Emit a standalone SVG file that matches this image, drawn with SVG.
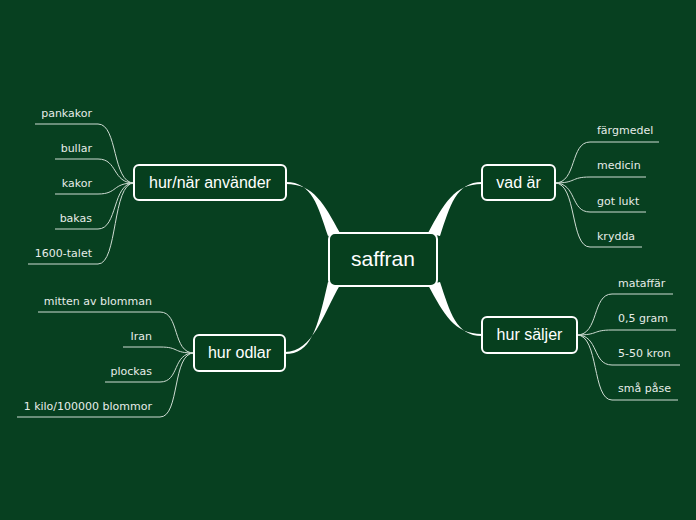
<svg xmlns="http://www.w3.org/2000/svg" width="696" height="520" viewBox="0 0 696 520">
<style>
.node rect{fill:#063f1e;stroke:#ffffff;stroke-width:2}
.main{font-family:"Liberation Sans","DejaVu Sans",sans-serif;font-size:16px;fill:#ffffff;text-anchor:middle}
.leaf{font-family:"DejaVu Sans","Liberation Sans",sans-serif;font-size:11px;fill:#e6ece8}
.end{text-anchor:end}
.ln{fill:none;stroke:#cfdcd3;stroke-width:1}
.tp{fill:#ffffff}
</style>
<rect width="696" height="520" fill="#074020"/>
<g id="connectors">
<path class="tp" d="M286,182 C312,182 318,206 328,236 L340,233 C324,204 314,184 286,184 Z"/>
<path class="tp" d="M482,182 C456,182 450,206 440,236 L428,233 C444,204 454,184 482,184 Z"/>
<path class="tp" d="M482,336 C456,336 450,312 440,282 L428,285 C444,314 454,334 482,334 Z"/>
<path class="tp" d="M285,354 C311,354 317,330 328,282 L340,285 C323,314 313,352 285,352 Z"/>
<!-- hur/när children -->
<path class="ln" d="M134,183 C112,183 118,124 98,124 L35,124"/>
<path class="ln" d="M134,183 C112,183 118,159 98,159 L55,159"/>
<path class="ln" d="M134,183 C112,183 118,194 98,194 L55,194"/>
<path class="ln" d="M134,183 C112,183 118,229 98,229 L55,229"/>
<path class="ln" d="M134,183 C112,183 118,264 98,264 L28,264"/>
<!-- hur odlar children -->
<path class="ln" d="M194,353 C172,353 180,312 160,312 L38,312"/>
<path class="ln" d="M194,353 C172,353 180,347 160,347 L123,347"/>
<path class="ln" d="M194,353 C172,353 180,382 160,382 L105,382"/>
<path class="ln" d="M194,353 C172,353 180,417 160,417 L17,417"/>
<!-- vad är children -->
<path class="ln" d="M555,183 C577,183 570,142 590,142 L659,142"/>
<path class="ln" d="M555,183 C577,183 570,177 590,177 L646,177"/>
<path class="ln" d="M555,183 C577,183 570,212 590,212 L646,212"/>
<path class="ln" d="M555,183 C577,183 570,247 590,247 L642,247"/>
<!-- hur säljer children -->
<path class="ln" d="M577,335 C599,335 592,294 612,294 L673,294"/>
<path class="ln" d="M577,335 C599,335 592,330 612,330 L676,330"/>
<path class="ln" d="M577,335 C599,335 592,365 612,365 L680,365"/>
<path class="ln" d="M577,335 C599,335 592,400 612,400 L678,400"/>
</g>
<g id="saffran" class="node"><rect x="329" y="233" width="108" height="53" rx="6"/><text class="main" x="383" y="266" style="font-size:21px">saffran</text></g>
<g id="hur-nar-anvander" class="node"><rect x="134" y="165" width="152" height="35" rx="5"/><text class="main" x="210" y="188">hur/när använder</text></g>
<g id="vad-ar" class="node"><rect x="482" y="165" width="73" height="35" rx="5"/><text class="main" x="518.5" y="188">vad är</text></g>
<g id="hur-saljer" class="node"><rect x="482" y="317" width="95" height="36" rx="5"/><text class="main" x="529.5" y="340">hur säljer</text></g>
<g id="hur-odlar" class="node"><rect x="194" y="335" width="91" height="36" rx="5"/><text class="main" x="239.5" y="358">hur odlar</text></g>
<g id="pankakor"><text class="leaf end" x="92" y="117">pankakor</text></g>
<g id="bullar"><text class="leaf end" x="92" y="152">bullar</text></g>
<g id="kakor"><text class="leaf end" x="92" y="187">kakor</text></g>
<g id="bakas"><text class="leaf end" x="92" y="222">bakas</text></g>
<g id="talet"><text class="leaf end" x="92" y="257">1600-talet</text></g>
<g id="mitten"><text class="leaf end" x="152" y="305">mitten av blomman</text></g>
<g id="iran"><text class="leaf end" x="152" y="340">Iran</text></g>
<g id="plockas"><text class="leaf end" x="152" y="375">plockas</text></g>
<g id="kilo"><text class="leaf end" x="152" y="410">1 kilo/100000 blommor</text></g>
<g id="fargmedel"><text class="leaf" x="597" y="134">färgmedel</text></g>
<g id="medicin"><text class="leaf" x="597" y="169">medicin</text></g>
<g id="gotlukt"><text class="leaf" x="597" y="205">got lukt</text></g>
<g id="krydda"><text class="leaf" x="597" y="240">krydda</text></g>
<g id="mataffar"><text class="leaf" x="618" y="287">mataffär</text></g>
<g id="gram"><text class="leaf" x="618" y="322">0,5 gram</text></g>
<g id="kron"><text class="leaf" x="618" y="357">5-50 kron</text></g>
<g id="pase"><text class="leaf" x="618" y="392">små påse</text></g>
</svg>
